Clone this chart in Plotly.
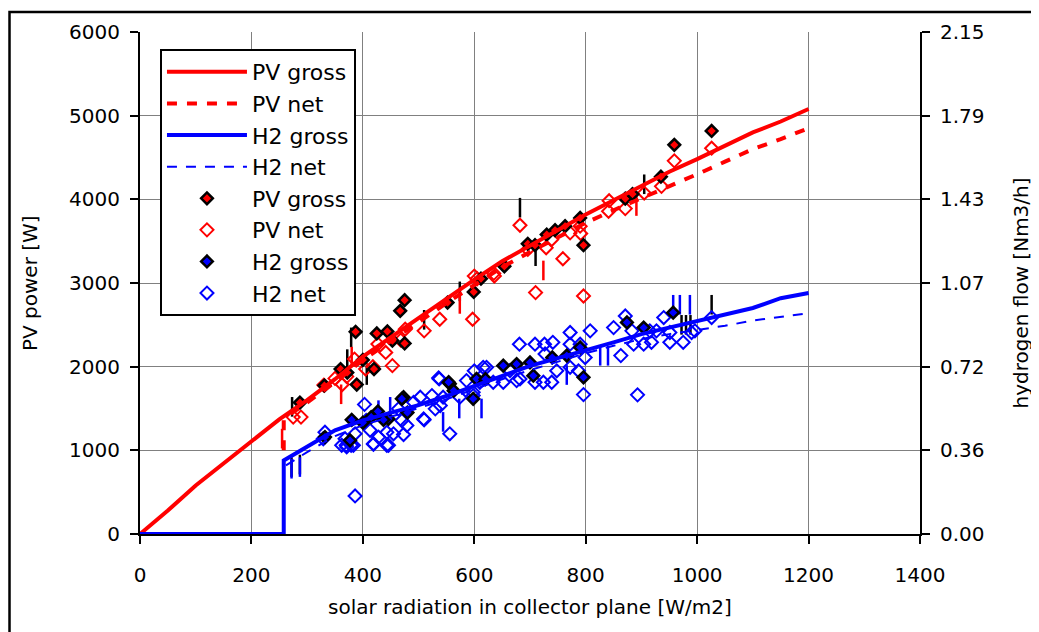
import plotly.graph_objects as go

# ---------------- data ----------------
# model lines
line_x = [0, 50, 100, 150, 200, 250, 300, 350, 400, 450, 500, 550, 600, 650, 700,
          750, 800, 850, 900, 950, 1000, 1050, 1100, 1150, 1200]
pv_gross_line = [0, 280, 580, 840, 1100, 1370, 1600, 1850, 2120, 2350, 2580, 2820, 3040,
                 3260, 3450, 3640, 3820, 3990, 4160, 4330, 4480, 4640, 4800, 4930, 5080]

pv_net_line_x = [258, 258, 300, 350, 400, 450, 500, 550, 600, 650, 700, 750, 800, 850, 900,
                 950, 1000, 1050, 1100, 1150, 1200]
pv_net_line = [1000, 1380, 1570, 1815, 2080, 2300, 2530, 2760, 2980, 3190, 3370, 3550,
               3720, 3870, 4010, 4160, 4300, 4450, 4600, 4720, 4850]

h2_gross_line_x = [0, 258, 258, 300, 350, 400, 450, 500, 550, 600, 650, 700, 750, 800, 850,
                   900, 950, 1000, 1050, 1100, 1150, 1200]
h2_gross_line = [0, 0, 0.315, 0.373, 0.444, 0.487, 0.520, 0.552, 0.591, 0.634, 0.677,
                 0.720, 0.753, 0.785, 0.821, 0.856, 0.885, 0.914, 0.942, 0.968, 1.010, 1.032]

h2_net_line_x = [262, 300, 350, 400, 450, 500, 550, 600, 650, 700, 750, 800, 850, 900, 950,
                 1000, 1050, 1100, 1150, 1200]
h2_net_line = [0.294, 0.351, 0.419, 0.466, 0.502, 0.538, 0.577, 0.620, 0.663, 0.702,
               0.738, 0.774, 0.806, 0.835, 0.856, 0.874, 0.892, 0.914, 0.930, 0.946]

# measured points
pv_gross_x = [287, 387, 475, 467, 425, 444, 453, 475, 360, 389, 420, 331, 552, 599, 612,
              654, 696, 709, 730, 745, 763, 790, 796, 871, 884, 935, 959, 1026, 372, 400]
pv_gross_y = [1571, 2417, 2794, 2667, 2397, 2421, 2310, 2278, 1972, 1786, 1972, 1774, 2766,
              2893, 3051, 3199, 3468, 3452, 3579, 3631, 3679, 3778, 3452, 4008, 4063, 4270,
              4651, 4817, 1930, 2080]

pv_net_x = [275, 289, 363, 371, 385, 405, 418, 453, 441, 427, 468, 476, 510, 538, 597, 605,
            635, 600, 636, 682, 710, 696, 729, 739, 759, 772, 790, 791, 796, 842, 841, 871,
            905, 936, 959, 1026, 330, 350]
pv_net_y = [1397, 1397, 1786, 1881, 2091, 1972, 2000, 2012, 2170, 2270, 2318, 2448, 2428,
            2567, 2567, 3051, 3115, 3083, 3083, 3690, 2885, 3401, 3421, 3520, 3290, 3599,
            3679, 3591, 2845, 3984, 3857, 3889, 4075, 4155, 4460, 4611, 1780, 1860]

h2_gross_x = [380, 427, 473, 446, 437, 415, 556, 598, 563, 377, 332, 796, 957, 652, 790,
              874, 904, 766, 604, 700, 740, 620, 480, 400, 470, 554, 676, 706]
h2_gross_y = [0.489, 0.525, 0.586, 0.493, 0.489, 0.501, 0.643, 0.579, 0.614, 0.401, 0.415,
              0.671, 0.948, 0.721, 0.799, 0.906, 0.884, 0.764, 0.664, 0.735, 0.756, 0.663,
              0.520, 0.477, 0.579, 0.650, 0.728, 0.678]

h2_net_x = [403, 386, 332, 329, 362, 370, 379, 386, 406, 413, 419, 428, 443, 443, 455, 473,
            470, 479, 464, 491, 503, 510, 524, 530, 539, 544, 556, 537, 574, 586, 598, 610,
            616, 600, 368, 622, 598, 634, 652, 681, 709, 726, 741, 682, 709, 739, 748, 727,
            772, 772, 790, 787, 799, 808, 796, 772, 850, 863, 871, 883, 886, 904, 918, 927,
            940, 951, 951, 975, 996, 893, 915, 1026, 990, 371, 383, 419, 446, 509, 536, 676,
            724, 664]
h2_net_y = [0.555, 0.163, 0.436, 0.408, 0.380, 0.380, 0.380, 0.429, 0.486, 0.444, 0.387,
            0.415, 0.380, 0.436, 0.429, 0.426, 0.486, 0.465, 0.536, 0.564, 0.586, 0.489,
            0.593, 0.536, 0.550, 0.586, 0.429, 0.664, 0.586, 0.657, 0.607, 0.650, 0.714,
            0.699, 0.408, 0.714, 0.593, 0.650, 0.650, 0.813, 0.813, 0.813, 0.821, 0.664,
            0.650, 0.650, 0.699, 0.771, 0.863, 0.813, 0.813, 0.699, 0.756, 0.870, 0.597,
            0.714, 0.884, 0.764, 0.934, 0.870, 0.813, 0.813, 0.821, 0.870, 0.927, 0.863,
            0.821, 0.821, 0.870, 0.596, 0.870, 0.927, 0.863, 0.373, 0.380, 0.384, 0.380,
            0.493, 0.668, 0.657, 0.650, 0.700]

# short vertical strokes seen among the points (power-axis units)
black_mark_x = [272, 287, 372, 407, 379, 273, 510, 574, 682, 710, 905, 972, 980, 988, 1026]
black_mark_y = [800, 830, 2090, 1900, 2350, 1520, 2560, 2900, 3900, 3320, 4180, 2500, 2500,
                2500, 2740]
red_mark_x = [255, 380, 361, 574, 724, 891]
red_mark_y = [1140, 2120, 1670, 2750, 3150, 3920]
blue_mark_x = [272, 287, 428, 449, 544, 573, 613, 766, 826, 840, 957, 969, 987]
blue_mark_y = [780, 800, 1480, 1520, 1340, 1500, 1500, 1900, 2130, 2130, 2740, 2740, 2740]

y2_ticks = ["0.00", "0.36", "0.72", "1.07", "1.43", "1.79", "2.15"]
y2_max = 2.15

RED = "#ff0000"
BLUE = "#0000ff"
FONT = "DejaVu Sans"

fig = go.Figure()

# decorative strokes
for mx, my, col in [(black_mark_x, black_mark_y, "black"),
                    (red_mark_x, red_mark_y, RED),
                    (blue_mark_x, blue_mark_y, BLUE)]:
    fig.add_trace(go.Scatter(x=mx, y=my, mode="markers", showlegend=False,
                             hoverinfo="skip",
                             marker=dict(symbol="line-ns", size=14,
                                         line=dict(color=col, width=2.5))))

# measured points
fig.add_trace(go.Scatter(x=h2_net_x, y=h2_net_y, yaxis="y2", mode="markers", name="H2 net",
                         legendrank=8,
                         marker=dict(symbol="diamond-open", size=10, color=BLUE,
                                     line=dict(color=BLUE, width=2))))
fig.add_trace(go.Scatter(x=h2_gross_x, y=h2_gross_y, yaxis="y2", mode="markers",
                         name="H2 gross", legendrank=7,
                         marker=dict(symbol="diamond", size=9, color=BLUE,
                                     line=dict(color="black", width=2.5))))
fig.add_trace(go.Scatter(x=pv_net_x, y=pv_net_y, mode="markers", name="PV net",
                         legendrank=6,
                         marker=dict(symbol="diamond-open", size=10, color=RED,
                                     line=dict(color=RED, width=2))))
fig.add_trace(go.Scatter(x=pv_gross_x, y=pv_gross_y, mode="markers", name="PV gross",
                         legendrank=5,
                         marker=dict(symbol="diamond", size=9, color=RED,
                                     line=dict(color="black", width=2.5))))

# model lines
fig.add_trace(go.Scatter(x=h2_net_line_x, y=h2_net_line, yaxis="y2", mode="lines",
                         name="H2 net", legendrank=4,
                         line=dict(color=BLUE, width=2, dash="10px,9px")))
fig.add_trace(go.Scatter(x=h2_gross_line_x, y=h2_gross_line, yaxis="y2", mode="lines",
                         name="H2 gross", legendrank=3,
                         line=dict(color=BLUE, width=4)))
fig.add_trace(go.Scatter(x=pv_net_line_x, y=pv_net_line, mode="lines", name="PV net",
                         legendrank=2,
                         line=dict(color=RED, width=4, dash="10px,10px")))
fig.add_trace(go.Scatter(x=line_x, y=pv_gross_line, mode="lines", name="PV gross",
                         legendrank=1,
                         line=dict(color=RED, width=4)))

axis_common = dict(showline=True, linecolor="black", linewidth=2, ticks="outside",
                   ticklen=8, tickwidth=2, tickcolor="black", zeroline=False,
                   tickfont=dict(family=FONT, size=20, color="black"))

fig.update_layout(
    width=1031, height=624,
    margin=dict(l=132, r=119, t=22, b=98),
    plot_bgcolor="white", paper_bgcolor="white",
    font=dict(family=FONT, size=20, color="black"),
    xaxis=dict(range=[0, 1400], tickvals=list(range(0, 1401, 200)), showgrid=True,
               gridcolor="#808080", gridwidth=1, ticklabelstandoff=14, **axis_common),
    yaxis=dict(range=[0, 6000], tickvals=list(range(0, 6001, 1000)), showgrid=True,
               gridcolor="#808080", gridwidth=1, ticklabelstandoff=6, **axis_common),
    yaxis2=dict(range=[0, y2_max], overlaying="y", side="right",
                tickvals=[i * y2_max / 6 for i in range(7)], ticktext=y2_ticks,
                showgrid=False, ticklabelstandoff=6, **axis_common),
    legend=dict(x=0.0256, y=0.966, xanchor="left", yanchor="top", bgcolor="white",
                bordercolor="black", borderwidth=2, itemwidth=80,
                font=dict(family=FONT, size=22, color="black"),
                traceorder="normal"),
    showlegend=True,
    shapes=[dict(type="rect", xref="paper", yref="paper", x0=-0.1673, x1=1.2,
                 y0=-0.25, y1=1.0397, line=dict(color="black", width=2.5))],
    annotations=[
        dict(text="solar radiation in collector plane [W/m2]", xref="paper", yref="paper",
             x=0.5, y=-0.145, xanchor="center", yanchor="middle", showarrow=False,
             font=dict(family=FONT, size=20)),
        dict(text="PV power [W]", xref="paper", yref="paper", x=-0.141, y=0.5,
             xanchor="center", yanchor="middle", textangle=-90, showarrow=False,
             font=dict(family=FONT, size=20)),
        dict(text="hydrogen flow [Nm3/h]", xref="paper", yref="paper", x=1.13, y=0.48,
             xanchor="center", yanchor="middle", textangle=-90, showarrow=False,
             font=dict(family=FONT, size=20)),
    ],
)

fig.write_html("out.html")
